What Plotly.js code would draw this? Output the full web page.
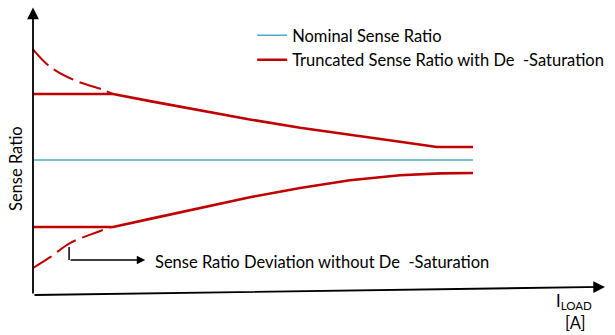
<!DOCTYPE html>
<html>
<head>
<meta charset="utf-8">
<script src="https://cdn.plot.ly/plotly-3.0.1.min.js"></script>
<style>html,body{margin:0;padding:0;background:#fff;}#chart{width:615px;height:335px;}</style>
</head>
<body>
<div id="chart"></div>
<script>
// Load current (normalised units) and sense ratio (nominal = 1)
const nominalLoad = [0, 10];
const nominalRatio = [1, 1];

const upperLoad = [0, 1.82, 2.66, 3.80, 4.93, 6.07, 7.20, 8.34, 9.18, 10];
const upperRatio = [1.489, 1.489, 1.436, 1.367, 1.300, 1.239, 1.185, 1.135, 1.096, 1.096];

const lowerLoad = [0, 1.82, 2.66, 3.80, 4.93, 6.07, 7.20, 8.34, 9.25, 10];
const lowerRatio = [0.504, 0.504, 0.564, 0.646, 0.724, 0.793, 0.850, 0.887, 0.901, 0.904];

const upperDevLoad = [0, 0.39, 0.95, 1.59, 1.82];
const upperDevRatio = [1.82, 1.69, 1.59, 1.52, 1.489];

const lowerDevLoad = [0, 0.39, 0.84, 1.45, 1.78];
const lowerDevRatio = [0.20, 0.28, 0.385, 0.465, 0.504];

const legendNames = ["Nominal Sense Ratio", "Truncated Sense Ratio with De \u00a0-Saturation"];
const deviationLabel = "Sense Ratio Deviation without De \u00a0-Saturation";
const yTitle = "Sense Ratio";
const xTitle = "I<sub>LOAD</sub>";
const xUnit = "[A]";

const RED = "#C00000", CYAN = "#4BACC6";
const FONT = "Lato, 'Open Sans', sans-serif";
const FS = 16.5;

const traces = [
  {x: nominalLoad, y: nominalRatio, mode: "lines", name: legendNames[0],
   line: {color: CYAN, width: 1.6}, legendgroup: "a"},
  {x: upperLoad, y: upperRatio, mode: "lines", name: legendNames[1],
   line: {color: RED, width: 2.6}, legendgroup: "b"},
  {x: lowerLoad, y: lowerRatio, mode: "lines", showlegend: false,
   line: {color: RED, width: 2.6}},
  {x: upperDevLoad, y: upperDevRatio, mode: "lines", showlegend: false,
   line: {color: RED, width: 2, dash: "22px,7px", shape: "spline"}},
  {x: lowerDevLoad, y: lowerDevRatio, mode: "lines", showlegend: false,
   line: {color: RED, width: 2, dash: "22px,7px", shape: "spline"}}
];

const layout = {
  width: 615, height: 335,
  margin: {l: 0, r: 0, t: 0, b: 0},
  paper_bgcolor: "#fff", plot_bgcolor: "#fff",
  font: {family: FONT, size: FS, color: "#000"},
  xaxis: {range: [-0.75, 13.227], visible: false, fixedrange: true},
  yaxis: {range: [-0.2963, 2.1852], visible: false, fixedrange: true},
  showlegend: true,
  legend: {x: 0.41, y: 0.946, xanchor: "left", yanchor: "top",
           bgcolor: "rgba(0,0,0,0)", font: {family: FONT, size: FS, color: "#000"},
           tracegroupgap: 0},
  shapes: [
    {type: "line", xref: "x", yref: "y", x0: 0.82, y0: 0.356, x1: 0.82, y1: 0.259,
     line: {color: "#000", width: 1.5}}
  ],
  annotations: [
    // y axis with arrow
    {xref: "x", yref: "y", axref: "x", ayref: "y", x: 0, y: 2.13, ax: 0, ay: 0,
     showarrow: true, arrowhead: 2, arrowsize: 1.3, arrowwidth: 1.8, arrowcolor: "#000", text: ""},
    // x axis with arrow
    {xref: "x", yref: "y", axref: "x", ayref: "y", x: 13.0, y: 0.06, ax: 0, ay: 0,
     showarrow: true, arrowhead: 2, arrowsize: 1.3, arrowwidth: 1.8, arrowcolor: "#000", text: ""},
    // deviation pointer
    {xref: "x", yref: "y", axref: "x", ayref: "y", x: 2.55, y: 0.259, ax: 0.82, ay: 0.259,
     showarrow: true, arrowhead: 2, arrowsize: 1.2, arrowwidth: 1.4, arrowcolor: "#000", text: ""},
    {xref: "x", yref: "y", x: 2.73, y: 0.244, xanchor: "left", yanchor: "middle",
     showarrow: false, text: deviationLabel, font: {family: FONT, size: FS, color: "#000"}},
    // axis titles
    {xref: "paper", yref: "paper", x: 16/615, y: 1 - 169/335, xanchor: "center", yanchor: "middle",
     textangle: -90, showarrow: false, text: yTitle, font: {family: FONT, size: FS, color: "#000"}},
    {xref: "paper", yref: "paper", x: 574/615, y: 1 - 301/335, xanchor: "center", yanchor: "middle",
     showarrow: false, text: xTitle, font: {family: FONT, size: FS, color: "#000"}},
    {xref: "paper", yref: "paper", x: 575/615, y: 1 - 323/335, xanchor: "center", yanchor: "middle",
     showarrow: false, text: xUnit, font: {family: FONT, size: FS, color: "#000"}}
  ]
};

Plotly.newPlot("chart", traces, layout, {staticPlot: true, displayModeBar: false});
</script>
</body>
</html>
